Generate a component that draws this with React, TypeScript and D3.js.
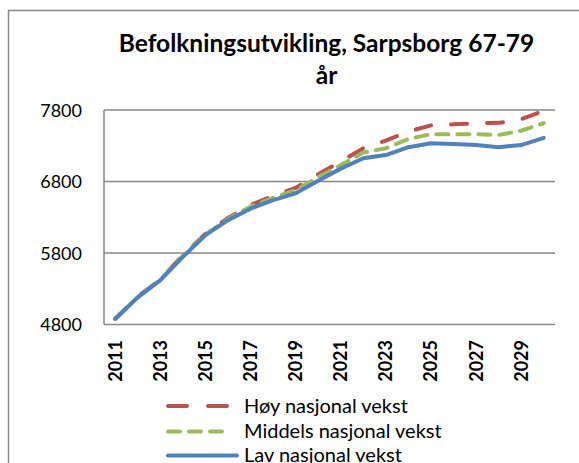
import React from "react";
import * as d3 from "d3";

const years = [2011, 2012, 2013, 2014, 2015, 2016, 2017, 2018, 2019, 2020, 2021, 2022, 2023, 2024, 2025, 2026, 2027, 2028, 2029, 2030];
const hoy = [4880, 5190, 5430, 5770, 6070, 6290, 6470, 6600, 6710, 6900, 7080, 7265, 7372, 7500, 7585, 7600, 7615, 7620, 7670, 7790];
const middels = [4880, 5185, 5425, 5760, 6060, 6275, 6450, 6570, 6680, 6860, 7030, 7205, 7265, 7395, 7462, 7462, 7462, 7450, 7510, 7615];
const lav = [4880, 5180, 5420, 5745, 6050, 6260, 6420, 6540, 6634, 6810, 6980, 7125, 7170, 7280, 7335, 7325, 7310, 7280, 7310, 7410];
const yTicks = [4800, 5800, 6800, 7800];
const xTickYears = [2011, 2013, 2015, 2017, 2019, 2021, 2023, 2025, 2027, 2029];
const seriesNames = ["Høy nasjonal vekst", "Middels nasjonal vekst", "Lav nasjonal vekst"];
const titleLines = ["Befolkningsutvikling, Sarpsborg 67-79", "år"];

const W = 579;
const H = 463;
const left = 104, right = 555, top = 110, bottom = 324.5;

const series = [
  { name: seriesNames[0], values: hoy, color: "#C0504D", dash: "16 20", cap: "round" },
  { name: seriesNames[1], values: middels, color: "#9BBB59", dash: "12 9", cap: "round" },
  { name: seriesNames[2], values: lav, color: "#4F81BD", dash: null, cap: "round" },
];

export default function App() {
  const x = d3.scalePoint<number>().domain(years).range([left, right]).padding(0.5);
  const y = d3.scaleLinear().domain([4800, 7800]).range([bottom, top]);
  const line = (vals: number[]) =>
    d3.line<number>().x((_, i) => x(years[i]) as number).y((v) => y(v))(vals) as string;
  const font = "Lato, 'Open Sans', sans-serif";
  return (
    <svg width={W} height={H} style={{ position: "absolute", left: 0, top: 0, background: "#fff" }}>
      <rect x={0} y={0} width={W} height={H} fill="#fff" />
      <rect x={8.5} y={10.5} width={W + 20} height={H + 20} fill="none" stroke="#868686" strokeWidth={1.5} />
      <text x={326.5} y={52} textAnchor="middle" fontFamily={font} fontWeight="bold" fontSize={24.5} fill="#000">
        {titleLines[0]}
      </text>
      <text x={326.5} y={83.5} textAnchor="middle" fontFamily={font} fontWeight="bold" fontSize={24.5} fill="#000">
        {titleLines[1]}
      </text>
      {yTicks.map((t) => (
        <g key={t}>
          <line x1={left} x2={right} y1={y(t)} y2={y(t)} stroke="#868686" strokeWidth={1.5} />
          <text x={82} y={y(t) + 6.5} textAnchor="end" fontFamily={font} fontSize={18} fill="#000">
            {t}
          </text>
        </g>
      ))}
      <line x1={left} x2={left} y1={top} y2={bottom} stroke="#868686" strokeWidth={1.5} />
      {xTickYears.map((yr) => (
        <text
          key={yr}
          transform={`translate(${(x(yr) as number) + 6.5},340) rotate(-90)`}
          textAnchor="end"
          fontFamily={font}
          fontWeight="bold"
          fontSize={18}
          fill="#000"
        >
          {yr}
        </text>
      ))}
      {series.map((s) => (
        <path
          key={s.name}
          d={line(s.values)}
          fill="none"
          stroke={s.color}
          strokeWidth={4}
          strokeLinecap={s.cap as any}
          strokeLinejoin="round"
          strokeDasharray={s.dash || undefined}
        />
      ))}
      {series.map((s, i) => {
        const ly = [406, 431.5, 455.5][i];
        return (
          <g key={"lg" + s.name}>
            <line
              x1={168}
              x2={i === 2 ? 237 : 227}
              y1={ly}
              y2={ly}
              stroke={s.color}
              strokeWidth={4}
              strokeLinecap="round"
              strokeDasharray={i === 0 ? "19 21" : i === 1 ? "12 9" : undefined}
            />
            <text x={244} y={ly + 6.5} fontFamily={font} fontSize={20} fill="#000">
              {s.name}
            </text>
          </g>
        );
      })}
    </svg>
  );
}
